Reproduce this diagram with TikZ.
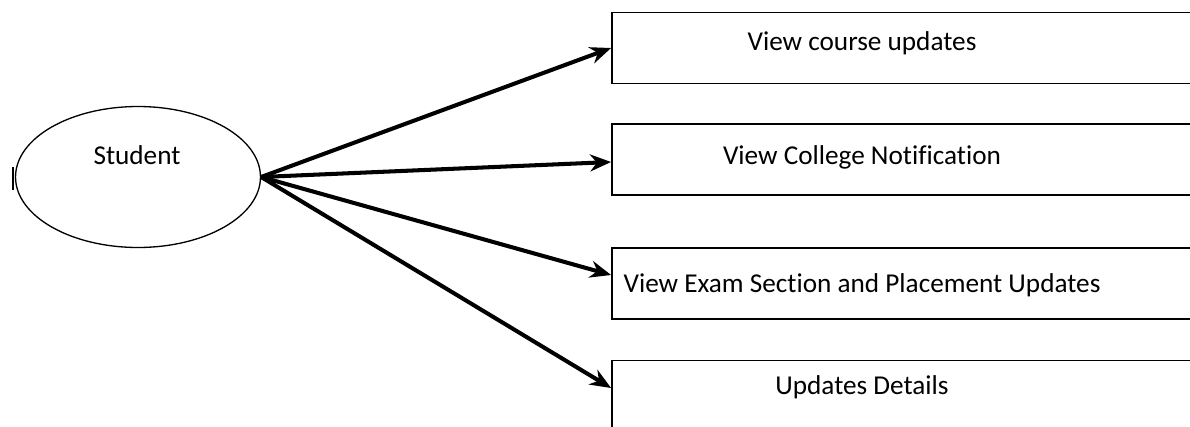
\documentclass[tikz,border=0pt]{standalone}
\usepackage{fontspec}
\setmainfont{Carlito}[Ligatures=NoCommon]
\usetikzlibrary{shapes.geometric,arrows.meta}
\begin{document}
\begin{tikzpicture}[x=0.02cm,y=-0.02cm,
    actor/.style={draw,ellipse,line width=0.75pt,minimum width=4.9cm,minimum height=2.82cm,inner sep=0},
    usebox/.style={draw,rectangle,line width=1.1pt,minimum width=12.76cm,minimum height=1.42cm,inner sep=0},
    lbl/.style={font=\fontsize{15.5}{18}\selectfont,inner sep=0},
    link/.style={line width=2.3pt,-{Stealth[length=0.42cm,width=0.34cm]}}]
        \useasboundingbox (0,0) rectangle (1190,426);
        \clip (0,0) rectangle (1190,426);
        \node[actor] (student) at (138,177) {};
        \node[lbl] (studentlbl) at (137,155) {Student};
        \draw[line width=1.3pt] (13,167) -- (13,190);
        \node[usebox] (course) at (931,48) {};
        \node[usebox] (notif) at (931,159.5) {};
        \node[usebox] (exam) at (931,283.5) {};
        \node[usebox] (details) at (931,396) {};
        \node[lbl] (courselbl) at (862,43) {View course updates};
        \node[lbl] (notiflbl) at (862,157) {View College Notification};
        \node[lbl] (examlbl) at (862,285) {View Exam Section and Placement Updates};
        \node[lbl] (detailslbl) at (862,387) {Updates Details};
        \draw[link] (student.east) -- (course.west);
        \draw[link] (student.east) -- ([yshift=-0.05cm]notif.west);
        \draw[link] (student.east) -- ([yshift=0.17cm]exam.west);
        \draw[link] (student.east) -- ([yshift=0.16cm]details.west);
    \end{tikzpicture}
\end{document}
